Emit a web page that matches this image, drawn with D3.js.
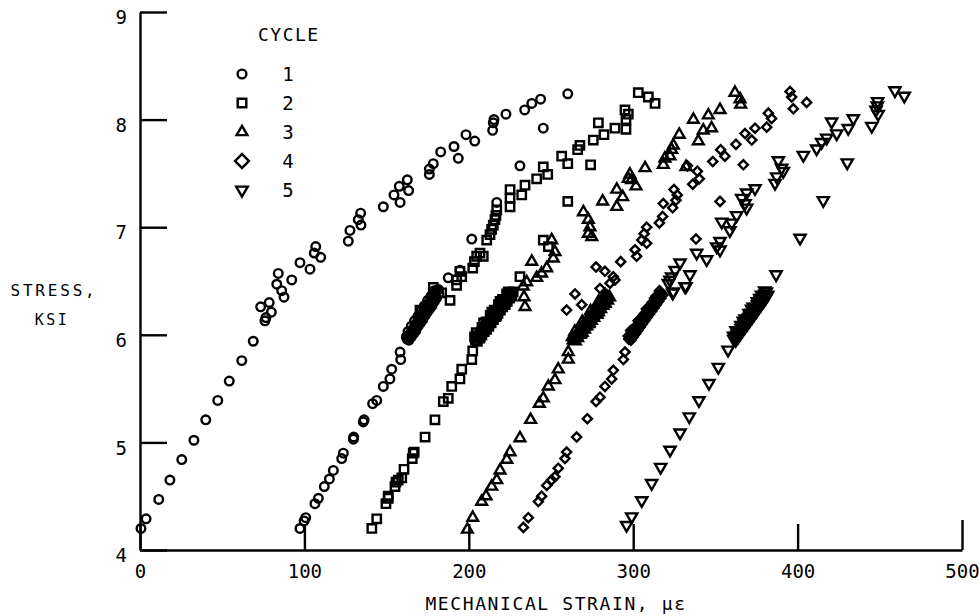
<!DOCTYPE html>
<meta charset="utf-8">
<style>
  body { margin: 0; background: #fff; }
  text { font-family: "DejaVu Sans Mono", monospace; fill: #000; }
</style>
<script src="https://d3js.org/d3.v7.min.js"></script>
<div id="my_dataviz"></div>
<script>

// strain (micro-strain), stress (ksi)
var cycle1 = [
  [0.6,4.20],[3.7,4.29],[11.4,4.47],[18.2,4.65],[25.4,4.84],[32.8,5.02],[40.0,5.21],[47.3,5.39],[54.3,5.57],
  [61.9,5.76],[68.9,5.94],[76.0,6.13],[73.4,6.26],[78.6,6.30],[79.9,6.21],[76.6,6.16],[84.1,6.57],[83.2,6.47],
  [86.2,6.41],[87.6,6.35],[92.3,6.51],[97.3,6.67],[103.4,6.61],[106.9,6.82],[106.0,6.76],[109.9,6.72],[126.7,6.87],
  [127.7,6.97],[132.8,7.07],[134.2,7.13],[134.4,7.02],[148.0,7.19],[154.5,7.30],[157.7,7.38],[158.2,7.23],[162.6,7.44],
  [163.4,7.34],[176.0,7.49],[176.0,7.54],[178.4,7.59],[182.9,7.70],[191.0,7.75],[193.6,7.64],[198.3,7.86],[203.6,7.80],
  [214.5,7.90],[214.9,7.97],[215.3,8.00],[222.6,8.05],[234.0,8.09],[238.3,8.15],[243.7,8.19],[245.3,7.92],[260.2,8.24],
  [97.3,4.20],[99.8,4.27],[100.8,4.30],[106.4,4.43],[108.5,4.48],[112.1,4.59],[115.2,4.66],[117.6,4.74],[122.7,4.85],
  [123.7,4.90],[129.8,5.03],[130.0,5.05],[136.3,5.21],[135.8,5.19],[141.5,5.36],[144.0,5.39],[148.0,5.52],[152.0,5.59],
  [153.1,5.68],[158.2,5.84],[158.6,5.77],
  [162.5,5.96],[163.4,5.99],[164.3,6.01],[165.2,6.03],[166.1,6.05],[167.0,6.08],[167.9,6.10],[168.8,6.12],[169.7,6.14],
  [170.6,6.17],[171.5,6.19],[172.4,6.21],[173.3,6.23],[174.2,6.26],[175.1,6.28],[176.0,6.30],[176.9,6.32],[177.8,6.35],
  [178.7,6.37],[179.6,6.39],[180.5,6.41],[164.0,5.99],[166.0,6.02],[168.0,6.07],[170.0,6.12],[172.0,6.16],[174.0,6.21],
  [176.0,6.26],[178.0,6.30],[180.0,6.35],[167.0,6.13],[171.0,6.22],[175.0,6.32],
  [163.6,5.95],[165.0,5.98],[166.4,6.01],[167.8,6.04],[169.2,6.08],[170.6,6.11],[172.0,6.14],[173.4,6.18],[174.8,6.21],
  [176.2,6.24],[177.6,6.27],[179.0,6.31],[180.4,6.34],[181.8,6.38],[181.6,6.42],[162.0,5.98],[163.0,6.03],[165.0,6.08],
  [169.0,6.17],[173.0,6.27],[177.0,6.36],[179.0,6.41],
  [187.5,6.53],[194.6,6.60],[201.8,6.89],[217.0,7.23],[231.1,7.57]
];

var cycle2 = [
  [141.0,4.20],[144.0,4.29],[149.6,4.43],[151.0,4.48],[155.1,4.59],[157.1,4.65],[151.0,4.50],[155.7,4.63],[159.2,4.67],
  [160.6,4.75],[165.6,4.85],[166.2,4.90],[166.8,4.91],[173.4,5.05],[179.4,5.21],[184.5,5.38],[187.5,5.41],[189.6,5.52],
  [194.6,5.59],[195.7,5.68],[201.8,5.77],[202.4,5.85],
  [204.0,5.95],[205.0,5.97],[206.0,5.99],[207.0,6.01],[208.0,6.03],[209.0,6.05],[210.0,6.07],[211.0,6.09],[212.0,6.11],
  [213.0,6.13],[214.0,6.15],[215.0,6.17],[216.0,6.19],[217.0,6.21],[218.0,6.23],[219.0,6.25],[220.0,6.27],[221.0,6.29],
  [222.0,6.31],[223.0,6.33],[224.0,6.35],[225.0,6.37],[226.0,6.39],[205.5,5.99],[208.0,6.07],[210.5,6.12],[213.0,6.18],
  [215.5,6.23],[218.0,6.28],[220.5,6.33],[223.0,6.38],[207.0,5.98],[212.0,6.08],[217.0,6.18],[222.0,6.28],
  [205.2,5.94],[206.6,5.97],[208.0,6.00],[209.4,6.03],[210.8,6.05],[212.2,6.08],[213.6,6.11],[215.0,6.14],[216.4,6.17],
  [217.8,6.20],[219.2,6.23],[220.6,6.26],[222.0,6.28],[223.4,6.31],[224.8,6.34],[226.2,6.36],[227.0,6.40],[203.5,5.98],
  [204.5,6.02],[209.0,6.11],[214.0,6.21],[219.0,6.31],[224.0,6.40],
  [170.3,6.23],[178.4,6.44],[183.5,6.39],[188.6,6.32],[192.6,6.46],[192.6,6.51],[194.6,6.59],[195.7,6.54],[202.4,6.62],
  [203.4,6.68],[204.8,6.73],[206.8,6.76],[208.8,6.73],[210.9,6.88],[212.9,6.93],[213.9,6.98],[214.9,7.02],[215.9,7.07],
  [216.5,7.11],[217.0,7.16],[225.1,7.35],[225.1,7.27],[225.1,7.19],[232.2,7.30],[234.2,7.39],[231.1,6.54],[245.3,6.88],
  [248.4,6.82],[241.3,7.45],[245.3,7.56],[248.0,7.49],[256.5,7.66],[260.2,7.59],[266.2,7.72],[267.6,7.76],[274.1,7.58],
  [260.2,7.24],[275.7,7.81],[278.8,7.97],[282.2,7.86],[288.9,7.92],[295.0,8.09],[295.6,8.00],[295.6,7.91],[297.0,8.05],
  [303.1,8.25],[309.2,8.21],[313.3,8.15]
];

var cycle3 = [
  [199.1,4.19],[202.4,4.30],[207.8,4.45],[210.5,4.50],[213.9,4.59],[217.0,4.65],[219.0,4.74],[223.1,4.84],[225.1,4.91],
  [231.1,5.04],[237.6,5.21],[242.9,5.36],[245.3,5.41],[248.4,5.52],[252.4,5.58],[254.4,5.68],[260.5,5.77],[260.5,5.84],
  [263.5,5.95],[264.5,5.97],[265.5,5.99],[266.5,6.01],[267.5,6.03],[268.5,6.05],[269.5,6.07],[270.5,6.08],[271.5,6.10],
  [272.5,6.12],[273.5,6.14],[274.5,6.16],[275.5,6.18],[276.5,6.20],[277.5,6.22],[278.5,6.23],[279.5,6.25],[280.5,6.27],
  [281.5,6.29],[282.5,6.31],[283.5,6.33],[284.5,6.35],[265.0,5.99],[267.5,6.05],[270.0,6.10],[272.5,6.15],[275.0,6.20],
  [277.5,6.25],[280.0,6.30],[282.5,6.34],[268.0,6.01],[273.0,6.10],[278.0,6.19],
  [264.8,5.94],[266.2,5.97],[267.6,6.00],[269.0,6.02],[270.4,6.05],[271.8,6.08],[273.2,6.11],[274.6,6.13],[276.0,6.16],
  [277.4,6.19],[278.8,6.21],[280.2,6.24],[281.6,6.27],[283.0,6.29],[284.4,6.32],[285.6,6.35],[263.0,5.98],[264.5,6.03],
  [269.0,6.12],[274.0,6.22],[279.0,6.31],[283.0,6.37],
  [234.2,6.26],[233.6,6.35],[233.1,6.45],[235.2,6.49],[238.3,6.68],[241.3,6.53],[244.3,6.57],[247.4,6.62],[251.4,6.71],
  [252.4,6.77],[250.4,6.88],[269.7,7.14],[272.7,7.07],[273.7,7.00],[272.7,6.94],[274.8,6.91],[281.4,7.24],[290.0,7.35],
  [293.6,7.28],[297.0,7.45],[290.0,7.19],[298.0,7.49],[299.0,7.44],[301.7,7.38],[307.2,7.55],[318.3,7.58],[319.3,7.64],
  [322.4,7.66],[323.4,7.72],[324.4,7.76],[328.0,7.86],[332.1,7.56],[336.6,8.00],[339.6,7.80],[342.6,7.90],[345.7,8.04],
  [347.7,7.92],[352.8,8.09],[361.9,8.25],[365.0,8.19],[365.4,8.14]
];

var cycle4 = [
  [233.2,4.21],[236.2,4.30],[242.3,4.45],[244.3,4.50],[247.4,4.60],[250.4,4.65],[252.4,4.68],[254.4,4.76],[258.5,4.85],
  [259.5,4.91],[265.6,5.05],[272.1,5.22],[277.4,5.38],[279.8,5.42],[282.8,5.52],[286.9,5.59],[287.9,5.67],[294.0,5.77],
  [295.0,5.84],
  [297.3,5.96],[298.2,5.98],[299.1,6.00],[300.0,6.02],[300.9,6.04],[301.8,6.06],[302.7,6.08],[303.6,6.10],[304.5,6.12],
  [305.4,6.14],[306.3,6.16],[307.2,6.18],[308.1,6.20],[309.0,6.22],[309.9,6.24],[310.8,6.26],[311.7,6.28],[312.6,6.30],
  [313.5,6.32],[314.4,6.34],[315.3,6.36],[316.2,6.38],[317.0,6.39],[299.0,6.03],[301.5,6.08],[304.0,6.14],[306.5,6.19],
  [309.0,6.25],[311.5,6.30],[314.0,6.36],[302.0,6.05],[307.0,6.16],[312.0,6.27],
  [298.6,5.95],[300.0,5.98],[301.4,6.01],[302.8,6.04],[304.2,6.07],[305.6,6.10],[307.0,6.13],[308.4,6.16],[309.8,6.19],
  [311.2,6.22],[312.6,6.25],[314.0,6.28],[315.4,6.31],[316.8,6.34],[318.0,6.37],[297.0,5.99],[298.5,6.04],[303.0,6.13],
  [308.0,6.24],[313.0,6.34],[316.0,6.41],
  [259.5,6.23],[264.6,6.38],[268.7,6.28],[277.4,6.63],[279.8,6.43],[282.8,6.59],[285.9,6.48],[287.9,6.54],[288.9,6.51],
  [292.4,6.68],[301.1,6.79],[302.1,6.73],[305.2,6.88],[306.6,6.94],[308.2,7.00],[308.2,6.85],[315.9,7.04],[317.9,7.10],
  [318.3,7.22],[324.0,7.18],[326.0,7.25],[324.8,7.35],[326.8,7.30],[338.2,6.89],[336.2,7.40],[340.2,7.45],[339.0,7.52],
  [332.9,7.57],[348.4,7.61],[353.2,7.72],[355.8,7.66],[362.5,7.77],[352.8,7.24],[367.0,7.58],[368.0,7.87],[372.1,7.81],
  [374.1,7.92],[381.2,7.93],[382.2,8.06],[384.2,8.01],[395.4,8.26],[396.4,8.21],[397.4,8.10],[405.5,8.16]
];

var cycle5 = [
  [296.0,4.23],[299.1,4.31],[305.2,4.46],[311.2,4.62],[316.7,4.77],[322.4,4.93],[328.5,5.09],[334.1,5.24],[340.0,5.39],
  [346.1,5.55],[351.8,5.70],[357.7,5.86],
  [361.2,5.96],[362.1,5.98],[363.0,6.00],[363.9,6.02],[364.8,6.04],[365.7,6.06],[366.6,6.08],[367.5,6.10],[368.4,6.12],
  [369.3,6.14],[370.2,6.16],[371.1,6.18],[372.0,6.20],[372.9,6.22],[373.8,6.24],[374.7,6.26],[375.6,6.28],[376.5,6.30],
  [377.4,6.32],[378.3,6.34],[379.2,6.36],[380.1,6.38],[381.0,6.40],[363.0,6.04],[365.5,6.09],[368.0,6.15],[370.5,6.20],
  [373.0,6.26],[375.5,6.31],[378.0,6.37],[366.0,6.06],[371.0,6.17],[376.0,6.28],
  [362.4,5.95],[363.8,5.98],[365.2,6.01],[366.6,6.04],[368.0,6.07],[369.4,6.10],[370.8,6.13],[372.2,6.16],[373.6,6.19],
  [375.0,6.22],[376.4,6.25],[377.8,6.28],[379.2,6.31],[380.6,6.34],[381.8,6.37],[361.0,5.99],[362.5,6.04],[367.0,6.13],
  [372.0,6.24],[377.0,6.34],[380.0,6.41],
  [386.9,6.56],[401.5,6.90],[415.6,7.25],[430.2,7.60],[445.1,7.94],[447.7,8.09],[448.7,8.17],[448.5,8.13],[449.0,8.05],
  [459.2,8.27],[464.9,8.22],[433.9,8.01],[430.8,7.92],[423.8,7.87],[420.7,7.98],[417.7,7.83],[414.6,7.79],[411.6,7.73],
  [403.5,7.67],[390.3,7.55],[388.3,7.62],[391.3,7.52],[387.3,7.47],[386.3,7.41],[374.1,7.36],[369.0,7.32],[366.0,7.27],
  [368.0,7.22],[369.0,7.18],[362.9,7.11],[359.9,7.04],[358.8,6.97],[353.8,7.05],[352.8,6.87],[350.8,6.82],[352.8,6.79],
  [344.7,6.70],[338.6,6.76],[334.5,6.56],[328.5,6.67],[325.5,6.60],[323.4,6.54],[321.4,6.48],[324.4,6.40],[331.5,6.45],
  [322.4,6.51],[324.0,6.39],[332.1,6.45]
];

var cycleNames = ["1", "2", "3", "4", "5"];
var xTicks = [0, 100, 200, 300, 400, 500];
var yTicks = [4, 5, 6, 7, 8, 9];

var allCycles = [cycle1, cycle2, cycle3, cycle4, cycle5];

var width = 979, height = 616;

var svg = d3.select("#my_dataviz")
  .append("svg")
    .attr("width", width)
    .attr("height", height);

var x = d3.scaleLinear().domain([0, 500]).range([140, 962]);
var y = d3.scaleLinear().domain([4, 9]).range([550, 12]);

// marker shapes, one per cycle: circle, square, triangle, diamond, down triangle
var shapes = [
  {type: d3.symbolCircle, size: 58, rot: 0},
  {type: d3.symbolSquare, size: 70, rot: 0},
  {type: d3.symbolTriangle, size: 50, rot: 0},
  {type: d3.symbolSquare, size: 42, rot: 45},
  {type: d3.symbolTriangle, size: 54, rot: 180}
];

// axes
var yAxis = svg.append("g")
  .attr("transform", "translate(140,0)")
  .call(d3.axisLeft(y).tickValues(yTicks).tickSize(-27).tickSizeOuter(0).tickPadding(13).tickFormat(d3.format("d")));
var xAxis = svg.append("g")
  .attr("transform", "translate(0,550)")
  .call(d3.axisBottom(x).tickValues(xTicks).tickSize(-26).tickSizeOuter(0).tickPadding(15).tickFormat(d3.format("d")));

[xAxis, yAxis].forEach(function(a) {
  a.selectAll("path, line").attr("stroke", "#000").attr("stroke-width", 2.4);
  a.selectAll("text")
    .style("font-family", "'DejaVu Sans Mono', monospace")
    .style("font-size", "19px")
    .attr("fill", "#000");
});
yAxis.selectAll("text").attr("dy", "0.62em");
// the tick at 500 reaches a bit higher
xAxis.selectAll(".tick line").attr("y2", function(d) { return d == 500 ? -30 : -26; });

// points
allCycles.forEach(function(data, i) {
  var s = shapes[i];
  svg.append("g")
    .selectAll("path")
    .data(data)
    .enter()
    .append("path")
      .attr("d", d3.symbol().type(s.type).size(s.size))
      .attr("transform", function(d) {
        return "translate(" + x(d[0]) + "," + y(d[1]) + ") rotate(" + s.rot + ")";
      })
      .attr("fill", "none")
      .attr("stroke", "#000")
      .attr("stroke-width", 2.4);
});

// legend
svg.append("text")
  .attr("x", 258).attr("y", 41)
  .style("font-size", "18px").style("letter-spacing", "1.5px")
  .text("CYCLE");

var legendSizes = [60, 74, 50, 96, 58];
cycleNames.forEach(function(name, i) {
  var s = shapes[i];
  var ly = 74 + i * 29;
  svg.append("path")
    .attr("d", d3.symbol().type(s.type).size(legendSizes[i]))
    .attr("transform", "translate(242," + ly + ") rotate(" + s.rot + ")")
    .attr("fill", "none")
    .attr("stroke", "#000")
    .attr("stroke-width", 2.4);
  svg.append("text")
    .attr("x", 288).attr("y", ly + 7)
    .attr("text-anchor", "middle")
    .style("font-size", "19px")
    .text(name);
});

// axis titles
svg.append("text")
  .attr("x", 556).attr("y", 610)
  .attr("text-anchor", "middle")
  .style("font-size", "18px").style("letter-spacing", "1.6px")
  .text("MECHANICAL STRAIN, \u03bc\u03b5");

svg.append("text")
  .attr("x", 54).attr("y", 296)
  .attr("text-anchor", "middle")
  .style("font-size", "16px").style("letter-spacing", "2.8px")
  .text("STRESS,");
svg.append("text")
  .attr("x", 52).attr("y", 325)
  .attr("text-anchor", "middle")
  .style("font-size", "15px").style("letter-spacing", "2.5px")
  .text("KSI");

</script>
